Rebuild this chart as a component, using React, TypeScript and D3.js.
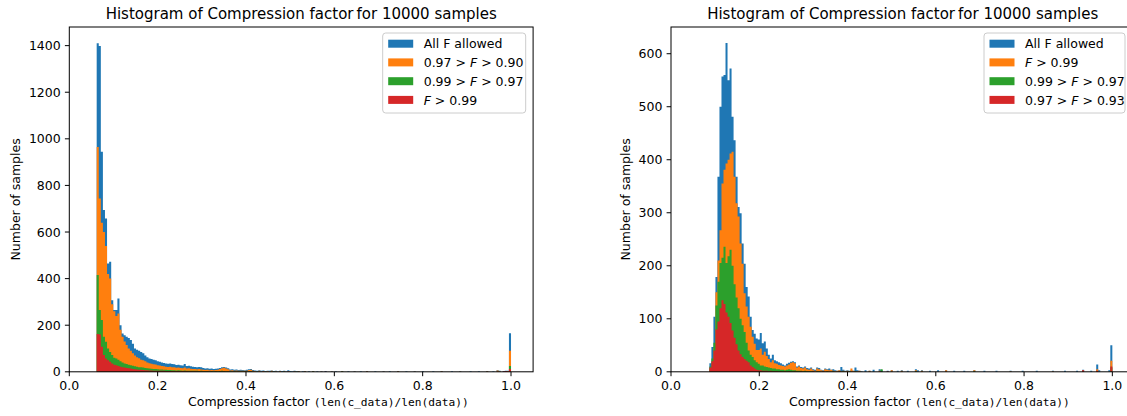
import React from "react";
import * as d3 from "d3";

const W = 1127;
const H = 416;
const NBINS = 200;

// ---------- data: histogram counts (bins 0..75 dense, later bins sparse [bin, count]) ----------
const leftBinRange = [0.062, 1.0];
const rightBinRange = [0.087, 1.0];

const leftAllHead = [1410, 1398, 944, 694, 658, 465, 472, 307, 265, 265, 315, 200, 164, 157, 150, 145, 136, 120, 100, 95, 90, 85, 80, 70, 62, 57, 55, 52, 50, 45, 43, 40, 38, 36, 35, 36, 33, 32, 29, 30, 28, 27, 33, 25, 26, 24, 22, 21, 20, 21, 19, 16, 14, 15, 13, 14, 12, 13, 14, 16, 20, 21, 18, 15, 10, 11, 9, 10, 8, 9, 8, 7, 9, 11, 12, 8];
const leftAllTail = [[76, 6], [77, 5], [78, 7], [79, 4], [80, 6], [81, 3], [82, 5], [83, 4], [84, 6], [85, 3], [86, 4], [87, 2], [88, 5], [89, 3], [90, 4], [91, 2], [92, 7], [93, 3], [94, 2], [95, 4], [96, 2], [97, 3], [99, 2], [100, 3], [102, 2], [104, 3], [106, 2], [108, 2], [110, 3], [113, 2], [115, 2], [118, 3], [121, 2], [124, 2], [127, 2], [130, 3], [134, 2], [138, 2], [141, 2], [145, 3], [149, 2], [153, 2], [157, 2], [162, 2], [166, 3], [171, 2], [175, 2], [180, 2], [184, 2], [188, 3], [191, 2], [193, 7], [194, 4], [196, 3], [197, 4], [198, 5], [199, 165]];

const leftOrangeHead = [965, 744, 640, 600, 540, 420, 400, 290, 260, 240, 250, 180, 150, 130, 115, 100, 90, 80, 70, 62, 58, 52, 50, 45, 40, 37, 35, 32, 31, 28, 27, 25, 24, 22, 21, 22, 20, 19, 17, 18, 16, 15, 18, 14, 15, 13, 12, 12, 11, 12, 10, 9, 8, 9, 7, 8, 7, 8, 9, 12, 15, 17, 14, 11, 6, 7, 5, 6, 5, 5, 4, 4, 5, 8, 9, 5];
const leftOrangeTail = [[76, 3], [78, 4], [80, 3], [82, 3], [84, 4], [86, 2], [88, 3], [90, 2], [92, 2], [95, 2], [97, 2], [100, 2], [104, 2], [108, 1], [113, 1], [118, 2], [124, 1], [130, 2], [138, 1], [145, 2], [153, 1], [166, 2], [175, 1], [188, 2], [193, 6], [194, 2], [198, 3], [199, 90]];

const leftGreenHead = [415, 265, 222, 150, 129, 100, 85, 72, 60, 57, 52, 45, 40, 36, 33, 30, 28, 26, 24, 22, 20, 19, 18, 16, 15, 14, 13, 12, 12, 11, 10, 10, 9, 9, 8, 8, 7, 7, 6, 7, 6, 5, 6, 5, 5, 4, 5, 4, 4, 3, 4, 3, 3, 3, 2, 3, 2, 3, 2, 3, 4, 3, 2, 2, 2, 1, 2, 1, 2, 1, 1, 2, 1, 2, 2, 1];
const leftGreenTail = [[77, 1], [81, 1], [85, 1], [90, 1], [96, 1], [104, 1], [118, 1], [199, 25]];

const leftRedHead = [162, 160, 107, 72, 57, 50, 43, 36, 30, 28, 25, 22, 20, 18, 16, 15, 14, 12, 11, 10, 9, 9, 8, 7, 7, 6, 6, 5, 5, 5, 4, 4, 4, 3, 3, 3, 3, 2, 2, 3, 2, 2, 2, 2, 1, 2, 1, 2, 1, 1, 1, 1, 1, 1, 1, 1, 0, 1, 0, 1, 1, 1, 0, 1, 0, 0, 1, 0, 1, 0, 0, 1, 0, 0, 1, 0];
const leftRedTail = [[80, 1], [92, 1], [110, 1], [196, 2], [197, 3], [198, 2], [199, 12]];

const rightAllHead = [16, 47, 104, 179, 368, 500, 557, 560, 620, 550, 572, 481, 437, 368, 311, 299, 242, 204, 160, 142, 104, 79, 72, 63, 61, 73, 54, 57, 44, 32, 25, 32, 22, 20, 18, 16, 14, 12, 15, 17, 19, 20, 18, 10, 12, 9, 8, 10, 7, 6, 8, 5, 4, 8, 7, 4, 3, 6, 5, 6, 4, 5, 3, 2, 3, 9, 4, 2, 3, 2, 3, 2, 8, 3, 2, 1];
const rightAllTail = [[77, 3], [79, 2], [81, 4], [84, 5], [85, 3], [88, 2], [90, 3], [93, 2], [95, 3], [98, 2], [102, 5], [103, 3], [105, 3], [109, 2], [113, 3], [117, 3], [121, 2], [126, 2], [131, 3], [136, 2], [142, 2], [149, 2], [155, 2], [162, 2], [170, 2], [176, 2], [182, 2], [185, 4], [189, 2], [192, 14], [193, 3], [198, 3], [199, 50]];

const rightOrangeHead = [5, 15, 45, 150, 210, 267, 355, 381, 393, 400, 412, 415, 368, 318, 293, 242, 204, 148, 123, 104, 85, 66, 53, 41, 41, 44, 32, 38, 30, 24, 18, 22, 16, 15, 13, 12, 11, 10, 12, 14, 17, 18, 16, 8, 10, 7, 6, 8, 5, 4, 6, 3, 2, 6, 5, 3, 2, 5, 4, 3, 4, 2, 1, 2, 3, 1, 2, 1, 2, 1, 6, 2, 1, 1, 2, 0];
const rightOrangeTail = [[79, 2], [84, 2], [90, 3], [95, 2], [102, 3], [105, 2], [117, 3], [131, 3], [149, 1], [170, 1], [185, 2], [192, 5], [199, 21]];

const rightGreenHead = [10, 25, 55, 125, 170, 205, 215, 236, 205, 218, 230, 200, 165, 140, 120, 100, 88, 75, 55, 40, 32, 28, 22, 18, 15, 12, 12, 10, 9, 8, 7, 6, 6, 5, 5, 4, 4, 3, 4, 5, 4, 3, 3, 2, 2, 2, 1, 2, 1, 1, 1, 1, 0, 1, 1, 0, 1, 0, 1, 0, 0, 1, 0, 0, 1, 0, 1, 0, 0, 1, 0, 0, 1, 0, 0, 0];
const rightGreenTail = [[85, 5], [102, 1], [131, 1], [199, 8]];

const rightRedHead = [8, 20, 40, 80, 95, 120, 135, 128, 112, 104, 92, 78, 64, 52, 40, 33, 28, 24, 21, 18, 12, 9, 6, 4, 3, 3, 2, 2, 2, 1, 2, 1, 1, 1, 0, 1, 0, 1, 0, 1, 0, 0, 1, 0, 0, 1, 0, 0, 0, 0, 0, 1, 0, 0, 0, 0, 1, 0, 0, 0, 0, 0, 0, 0, 1, 0, 0, 0, 0, 0, 0, 0, 0, 0, 0, 0];
const rightRedTail = [[88, 1], [185, 3], [192, 2], [199, 10]];

const leftYTicks = [0, 200, 400, 600, 800, 1000, 1200, 1400];
const rightYTicks = [0, 100, 200, 300, 400, 500, 600];
const xTicks = [0, 0.2, 0.4, 0.6, 0.8, 1.0];

const leftLegend = ["All F allowed", "0.97 > $F$ > 0.90", "0.99 > $F$ > 0.97", "$F$ > 0.99"];
const rightLegend = ["All F allowed", "$F$ > 0.99", "0.99 > $F$ > 0.97", "0.97 > $F$ > 0.93"];

const titleText = "Histogram of Compression factor\u2009for 10000 samples";
const COLORS = ["#1f77b4", "#ff7f0e", "#2ca02c", "#d62728"];
const FONT = "DejaVu Sans";

function expand(head: number[], tail: number[][]): number[] {
  const arr = new Array(NBINS).fill(0);
  head.forEach((v, i) => (arr[i] = v));
  tail.forEach(([i, v]) => (arr[i] = v));
  return arr;
}

function MathLabel({ text, x, y }: { text: string; x: number; y: number }) {
  const parts = text.split(/\$(.*?)\$/);
  return (
    <text x={x} y={y} fontSize={12.5} fontFamily={FONT} fill="#000">
      {parts.map((p, i) => (
        <tspan key={i} fontStyle={i % 2 === 1 ? "italic" : "normal"}>
          {p}
        </tspan>
      ))}
    </text>
  );
}

type PanelProps = {
  px0: number;
  px1: number;
  binRange: number[];
  series: number[][];
  yMax: number;
  yTicks: number[];
  legend: string[];
  legendX: number;
  legendW: number;
  xlabelX: number;
  ylabelX: number;
};

function Panel(p: PanelProps) {
  const top = 27;
  const bottom = 371.8;
  const x = d3.scaleLinear().domain([0, 1.05]).range([p.px0, p.px1]);
  const y = d3.scaleLinear().domain([0, p.yMax]).range([bottom, top]);
  const [lo, hi] = p.binRange;
  const edges = d3.range(NBINS + 1).map((i) => lo + ((hi - lo) * i) / NBINS);
  const area = d3
    .area<number[]>()
    .x((d) => x(d[0]))
    .y0(y(0))
    .y1((d) => y(d[1]))
    .curve(d3.curveStepAfter);
  const tickLen = 4.4;
  const cx = (p.px0 + p.px1) / 2;
  const cy = (top + bottom) / 2;
  const rowY = [43.7, 62.4, 81.2, 99.9];
  return (
    <g>
      {p.series.map((counts, si) => {
        const pts = counts.map((c, i) => [edges[i], c]).concat([[edges[NBINS], counts[NBINS - 1]]]);
        return <path key={si} d={area(pts) || ""} fill={COLORS[si]} />;
      })}
      {/* spines */}
      <rect x={p.px0} y={top} width={p.px1 - p.px0} height={bottom - top} fill="none" stroke="#000" strokeWidth={1} />
      {/* x ticks */}
      {xTicks.map((t) => (
        <g key={t}>
          <line x1={x(t)} x2={x(t)} y1={bottom} y2={bottom + tickLen} stroke="#000" strokeWidth={1} />
          <text x={x(t)} y={bottom + 18} textAnchor="middle" fontSize={12.5} fontFamily={FONT}>
            {d3.format(".1f")(t)}
          </text>
        </g>
      ))}
      {/* y ticks */}
      {p.yTicks.map((t) => (
        <g key={t}>
          <line x1={p.px0 - tickLen} x2={p.px0} y1={y(t)} y2={y(t)} stroke="#000" strokeWidth={1} />
          <text x={p.px0 - 8.6} y={y(t) + 4.6} textAnchor="end" fontSize={12.5} fontFamily={FONT}>
            {t}
          </text>
        </g>
      ))}
      {/* title */}
      <text x={cx} y={19} textAnchor="middle" fontSize={15} fontFamily={FONT}>
        {titleText}
      </text>
      {/* x label */}
      <text x={p.xlabelX} y={406} fontSize={12.5} fontFamily={FONT}>
        Compression factor{" "}
        <tspan fontFamily="DejaVu Sans Mono" fontSize={11.2}>
          (len(c_data)/len(data))
        </tspan>
      </text>
      {/* y label */}
      <text
        transform={`translate(${p.ylabelX},${cy}) rotate(-90)`}
        textAnchor="middle"
        fontSize={12.5}
        fontFamily={FONT}
      >
        Number of samples
      </text>
      {/* legend */}
      <rect x={p.legendX} y={33} width={p.legendW} height={80} rx={3} fill="#fff" fillOpacity={0.8} stroke="#cccccc" strokeWidth={1} />
      {p.legend.map((lab, i) => (
        <g key={i}>
          <rect x={p.legendX + 5.5} y={rowY[i] - 4} width={25} height={8} fill={COLORS[i]} />
          <MathLabel text={lab} x={p.legendX + 41} y={rowY[i] + 4.6} />
        </g>
      ))}
    </g>
  );
}

export default function App() {
  const leftSeries = [
    expand(leftAllHead, leftAllTail),
    expand(leftOrangeHead, leftOrangeTail),
    expand(leftGreenHead, leftGreenTail),
    expand(leftRedHead, leftRedTail),
  ];
  const rightSeries = [
    expand(rightAllHead, rightAllTail),
    expand(rightOrangeHead, rightOrangeTail),
    expand(rightGreenHead, rightGreenTail),
    expand(rightRedHead, rightRedTail),
  ];
  return (
    <svg
      width={W}
      height={H}
      viewBox={`0 0 ${W} ${H}`}
      style={{ position: "absolute", left: 0, top: 0, background: "#fff", overflow: "hidden" }}
    >
      <rect x={0} y={0} width={W} height={H} fill="#fff" />
      <Panel
        px0={69.3}
        px1={533.1}
        binRange={leftBinRange}
        series={leftSeries}
        yMax={1480}
        yTicks={leftYTicks}
        legend={leftLegend}
        legendX={382.7}
        legendW={143}
        xlabelX={188}
        ylabelX={19.5}
      />
      <Panel
        px0={671}
        px1={1134.4}
        binRange={rightBinRange}
        series={rightSeries}
        yMax={650.4}
        yTicks={rightYTicks}
        legend={rightLegend}
        legendX={984}
        legendW={141}
        xlabelX={789}
        ylabelX={629.5}
      />
    </svg>
  );
}
